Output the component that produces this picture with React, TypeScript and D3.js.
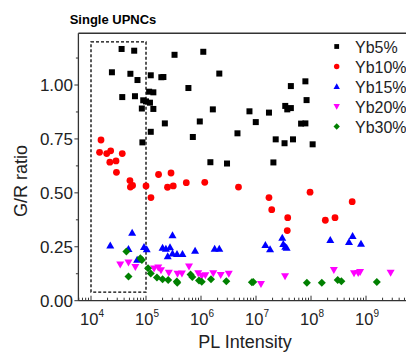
import React from "react";
import * as d3 from "d3";

const W = 406, H = 353;

const yb5: [number, number][] = [
  [3.6e4,1.167],[6.1e4,1.159],[3.3e5,1.14],[2.4e4,1.059],[5.2e4,1.052],[7.0e4,1.023],[1.22e5,1.045],[1.9e5,1.036],[2.07e5,1.037],
  [5.9e5,0.986],[1.14e5,0.969],[1.36e5,0.966],[3.7e4,0.944],[6.3e4,0.948],[8.9e4,0.929],[1.0e5,0.924],[1.18e5,0.918],[8.4e4,0.891],
  [1.36e5,0.889],[2.2e5,0.822],[9.5e5,0.831],[1.22e5,0.783],[7.1e5,0.759],[8.6e4,0.734],[1.1e6,1.154],[2.15e6,1.053],[4.3e7,0.995],
  [7.9e7,1.017],[8.3e7,0.93],[1.64e6,0.887],[7.6e6,0.878],[1.72e7,0.872],[3.4e7,0.903],[3.7e7,0.887],[4.3e7,0.893],[9.9e6,0.828],
  [6.6e7,0.821],[7.9e7,0.822],[4.6e6,0.776],[2.28e7,0.748],[3.3e7,0.73],[4.7e7,0.748],[1.07e8,0.725],[1.48e6,0.642],[2.97e6,0.636],[2.07e7,0.641]
];
const yb10: [number, number][] = [
  [1.52e4,0.745],[1.43e4,0.688],[1.93e4,0.682],[2.28e4,0.695],[3.7e4,0.682],[2.2e4,0.642],[2.85e4,0.648],[2.9e4,0.595],[5.1e4,0.557],
  [5.7e4,0.534],[5.2e4,0.527],[1.0e5,0.532],[1.23e5,0.478],[1.69e5,0.585],[2.85e5,0.592],[2.46e5,0.526],[3.13e5,0.532],[5.4e5,0.547],
  [1.17e6,0.549],[4.8e6,0.527],[1.72e7,0.478],[1.93e7,0.422],[3.77e7,0.385],[3.7e7,0.325],[9.6e7,0.503],[1.82e8,0.373],[2.73e8,0.385],[5.6e8,0.459]
];
const yb15: [number, number][] = [
  [2.24e4,0.256],[5.6e4,0.315],[4.8e4,0.24],[9.2e4,0.249],[1.03e5,0.239],[6.9e4,0.19],[2.0e5,0.245],[2.3e5,0.241],[2.73e5,0.248],
  [3.03e5,0.304],[2.48e5,0.206],[3.03e5,0.219],[3.66e5,0.216],[4.6e5,0.217],[7.8e5,0.231],[1.77e6,0.241],[2.15e6,0.241],[1.48e7,0.258],
  [1.8e7,0.238],[3.0e7,0.292],[3.13e7,0.263],[3.4e7,0.25],[3.6e7,0.246],[2.24e8,0.281],[4.9e8,0.272],[5.7e8,0.3],[8.1e8,0.264]
];
const yb20: [number, number][] = [
  [3.4e4,0.168],[4.8e4,0.177],[6.4e4,0.156],[1.4e5,0.149],[1.67e5,0.154],[1.87e5,0.141],[2.6e5,0.13],[3.74e5,0.125],[4.5e5,0.126],
  [6.05e5,0.158],[8.9e5,0.127],[1.03e6,0.115],[1.2e6,0.118],[1.67e6,0.127],[2.28e6,0.119],[3.2e6,0.125],[1.23e7,0.077],[3.37e7,0.113],
  [2.6e8,0.142],[6.05e8,0.127],[7.2e8,0.128],[7.8e8,0.133],[2.8e9,0.13]
];
const yb30: [number, number][] = [
  [4.4e4,0.228],[4.8e4,0.112],[7.9e4,0.197],[8.4e4,0.189],[1.09e5,0.15],[1.22e5,0.126],[1.58e5,0.108],[2.0e5,0.1],[2.53e5,0.096],
  [3.63e5,0.089],[3.7e5,0.083],[6.45e5,0.121],[6.95e5,0.11],[9.2e5,0.094],[1.03e6,0.088],[1.52e6,0.099],[2.88e6,0.09],[8.4e6,0.085],
  [8.9e6,0.087],[8.4e7,0.083],[1.57e8,0.083],[3.05e8,0.096],[3.56e8,0.09],[1.57e9,0.087]
];

const seriesNames = ["Yb5%", "Yb10%", "Yb15%", "Yb20%", "Yb30%"];
const seriesColors = ["#000000", "#ff0000", "#0000ff", "#ff00ff", "#008000"];
const seriesData = [yb5, yb10, yb15, yb20, yb30];
const seriesShapes = ["square", "circle", "triangle", "triangleDown", "diamond"];

const yTicks = [0, 0.25, 0.5, 0.75, 1.0];
const yTickLabels = ["0.00", "0.25", "0.50", "0.75", "1.00"];
const xDecades = [4, 5, 6, 7, 8, 9];

const boxX = [1e4, 1e5];
const boxY = [0.04, 1.2];

const FONT = "'Liberation Sans', Arial, sans-serif";

function Marker({ shape, x, y, color, s = 1 }: { shape: string; x: number; y: number; color: string; s?: number }) {
  if (shape === "square") return <rect x={x - 3 * s} y={y - 3 * s} width={6 * s} height={6 * s} fill={color} />;
  if (shape === "circle") return <circle cx={x} cy={y} r={3.4 * s} fill={color} />;
  if (shape === "triangle")
    return <path d={`M${x},${y - 4 * s} L${x + 4 * s},${y + 3 * s} L${x - 4 * s},${y + 3 * s} Z`} fill={color} />;
  if (shape === "triangleDown")
    return <path d={`M${x},${y + 4 * s} L${x + 4 * s},${y - 3 * s} L${x - 4 * s},${y - 3 * s} Z`} fill={color} />;
  return <path d={`M${x},${y - 4 * s} L${x + 4 * s},${y} L${x},${y + 4 * s} L${x - 4 * s},${y} Z`} fill={color} />;
}

export default function App() {
  const x = d3.scaleLog().domain([5.9e3, 1.3e10]).range([78.4, 427.3]);
  const y = d3.scaleLinear().domain([0, 1.24]).range([300.7, 300.7 - 1.24 * 215.7]);
  const left = x.range()[0], right = x.range()[1];
  const top = y(1.24), bottom = y(0);

  const minorX: number[] = [];
  for (let k = 3; k <= 10; k++) {
    for (let m = 2; m <= 9; m++) {
      const v = m * Math.pow(10, k);
      if (v > x.domain()[0] && v < x.domain()[1]) minorX.push(v);
    }
  }
  const minorY = [0.125, 0.375, 0.625, 0.875, 1.125];

  return (
    <svg width={W} height={H} style={{ position: "absolute", left: 0, top: 0, background: "#fff" }} fontFamily={FONT}>
      <rect width={W} height={H} fill="#fff" />
      <text x={113} y={24} fontSize={13} fontWeight="bold" textAnchor="middle">Single UPNCs</text>
      {/* dashed box */}
      <rect x={x(boxX[0])} y={y(boxY[1])} width={x(boxX[1]) - x(boxX[0])} height={y(boxY[0]) - y(boxY[1])}
        fill="none" stroke="#000" strokeWidth={1.3} strokeDasharray="3,2" />
      {/* markers */}
      {seriesData.map((data, si) =>
        data.map((d, i) => (
          <Marker key={si + "-" + i} shape={seriesShapes[si]} x={x(d[0])} y={y(d[1])} color={seriesColors[si]} />
        ))
      )}
      {/* frame */}
      <line x1={left} x2={right} y1={top} y2={top} stroke="#333" strokeWidth={1.3} />
      <line x1={left} x2={left} y1={top} y2={bottom} stroke="#333" strokeWidth={1.3} />
      <line x1={left} x2={right} y1={bottom} y2={bottom} stroke="#333" strokeWidth={1.3} />
      {/* y ticks */}
      {yTicks.map((t, i) => (
        <g key={"yt" + i}>
          <line x1={left - 4} x2={left} y1={y(t)} y2={y(t)} stroke="#333" strokeWidth={1} />
          <text x={73} y={y(t) + 6} fontSize={17} textAnchor="end" fill="#222">{yTickLabels[i]}</text>
        </g>
      ))}
      {minorY.map((t, i) => (
        <line key={"ym" + i} x1={left - 2.5} x2={left} y1={y(t)} y2={y(t)} stroke="#333" strokeWidth={1} />
      ))}
      {/* x ticks */}
      {xDecades.map((k) => (
        <g key={"xt" + k}>
          <line x1={x(Math.pow(10, k))} x2={x(Math.pow(10, k))} y1={bottom} y2={bottom - 5} stroke="#333" strokeWidth={1} />
          <text x={x(Math.pow(10, k)) + 1} y={325} fontSize={16.5} textAnchor="middle" fill="#222">
            10<tspan fontSize={10} dy={-8}>{k}</tspan>
          </text>
        </g>
      ))}
      {minorX.map((v, i) => (
        <line key={"xm" + i} x1={x(v)} x2={x(v)} y1={bottom} y2={bottom - 3} stroke="#333" strokeWidth={1} />
      ))}
      {/* axis titles */}
      <text x={245} y={348} fontSize={18} textAnchor="middle" fill="#222">PL Intensity</text>
      <text transform={`translate(27,181) rotate(-90)`} fontSize={18} textAnchor="middle" fill="#222">G/R ratio</text>
      {/* legend */}
      {seriesNames.map((n, i) => (
        <g key={"lg" + i}>
          <Marker shape={seriesShapes[i]} x={336.7} y={46.5 + i * 20} color={seriesColors[i]} s={0.8} />
          <text x={355} y={46.5 + i * 20 + 6} fontSize={16} fill="#222">{n}</text>
        </g>
      ))}
    </svg>
  );
}
